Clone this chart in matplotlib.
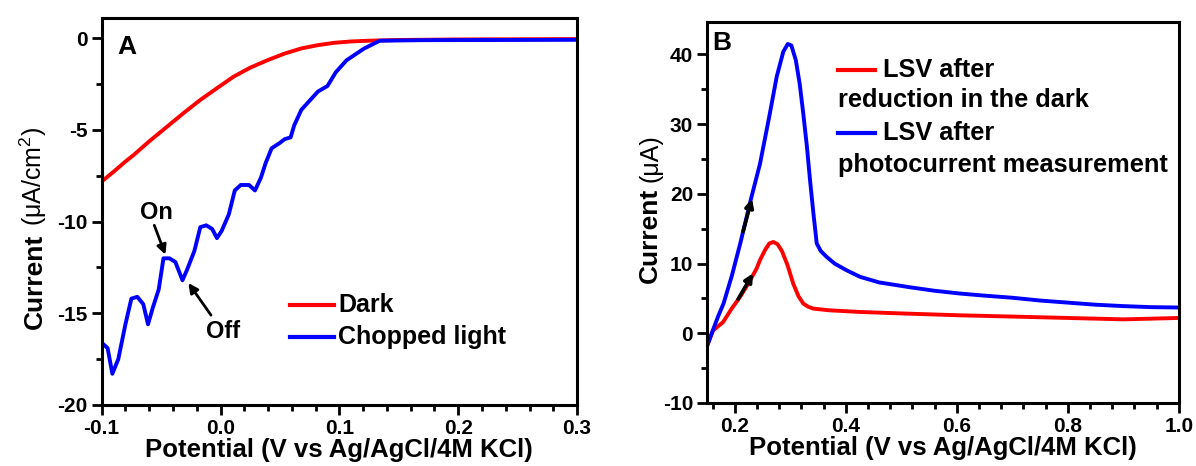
import matplotlib
matplotlib.use("Agg")
import matplotlib.pyplot as plt
from matplotlib.ticker import MultipleLocator

plt.rcParams['font.family'] = ['Liberation Sans', 'DejaVu Sans']
plt.rcParams['font.weight'] = 'bold'
plt.rcParams['mathtext.default'] = 'regular'
plt.rcParams['axes.unicode_minus'] = False

# panel A: LSV in the dark and under chopped light
dark_v = [-0.100, -0.090, -0.080, -0.073, -0.060, -0.045, -0.030, -0.017,
          -0.003, 0.011, 0.025, 0.040, 0.054, 0.068, 0.082, 0.096, 0.110,
          0.124, 0.150, 0.200, 0.300]
dark_i = [-7.81, -7.28, -6.72, -6.36, -5.62, -4.82, -4.02, -3.36,
          -2.72, -2.09, -1.60, -1.18, -0.83, -0.55, -0.37, -0.24, -0.17,
          -0.13, -0.09, -0.06, -0.04]

chop_v = [-0.100, -0.095, -0.091, -0.086, -0.080, -0.075, -0.070, -0.065,
          -0.061, -0.057, -0.052, -0.048, -0.043, -0.038, -0.032, -0.028,
          -0.022, -0.017, -0.012, -0.007, -0.003, 0.001, 0.007, 0.012,
          0.017, 0.024, 0.029, 0.034, 0.038, 0.043, 0.050, 0.054, 0.059,
          0.062, 0.068, 0.075, 0.082, 0.090, 0.097, 0.106, 0.114, 0.121,
          0.134, 0.170, 0.300]
chop_i = [-16.6, -16.9, -18.3, -17.5, -15.6, -14.2, -14.1, -14.5,
          -15.6, -14.7, -13.7, -12.0, -12.0, -12.2, -13.2, -12.6,
          -11.6, -10.3, -10.2, -10.4, -10.9, -10.5, -9.6, -8.3,
          -8.0, -8.0, -8.3, -7.6, -6.8, -6.0, -5.7, -5.5, -5.4,
          -4.75, -3.9, -3.4, -2.9, -2.6, -1.85, -1.2, -0.85, -0.55,
          -0.13, -0.1, -0.08]

# panel B: stripping LSV after reduction
red_v = [0.150, 0.161, 0.179, 0.195, 0.2095, 0.225, 0.2395, 0.2455, 0.255,
         0.2625, 0.2695, 0.277, 0.285, 0.295, 0.3055, 0.315, 0.3235, 0.3325,
         0.3415, 0.370, 0.4257, 0.500, 0.606, 0.700, 0.800, 0.900, 1.000]
red_i = [-1.8, 0.4, 1.6, 3.6, 5.2, 7.2, 9.3, 10.5, 12.0,
         12.9, 13.1, 12.8, 11.8, 9.8, 7.1, 5.3, 4.26, 3.8,
         3.54, 3.3, 3.06, 2.85, 2.58, 2.4, 2.2, 2.0, 2.2]

blue_v = [0.150, 0.160, 0.170, 0.180, 0.195, 0.210, 0.230, 0.2455, 0.262,
          0.2756, 0.2875, 0.2955, 0.302, 0.310, 0.317, 0.3235, 0.330, 0.3356,
          0.342, 0.3477, 0.355, 0.3657, 0.380, 0.400, 0.4257, 0.460, 0.5158,
          0.560, 0.606, 0.650, 0.700, 0.750, 0.800, 0.850, 0.900, 0.950, 1.000]
blue_i = [-1.9, 0.3, 2.4, 4.3, 8.3, 12.9, 19.5, 24.3, 31.0,
          36.8, 40.4, 41.5, 41.3, 39.2, 35.8, 31.5, 26.8, 22.0,
          17.0, 12.9, 11.8, 10.95, 10.0, 9.1, 8.1, 7.3, 6.6,
          6.1, 5.7, 5.4, 5.1, 4.7, 4.4, 4.1, 3.9, 3.75, 3.7]

xlabel = 'Potential (V vs Ag/AgCl/4M KCl)'

fig = plt.figure(figsize=(11.96, 4.66), dpi=100)
axA = fig.add_axes([0.085, 0.131, 0.3975, 0.830])
axB = fig.add_axes([0.5911, 0.1352, 0.3946, 0.8182])


def style(ax):
    for s in ax.spines.values():
        s.set_linewidth(2.2)
    ax.tick_params(which='both', direction='out', width=2, top=False, right=False,
                   labelsize=15, pad=3)
    ax.tick_params(which='major', length=7)
    ax.tick_params(which='minor', length=4)
    for lab in ax.get_xticklabels() + ax.get_yticklabels():
        lab.set_fontweight('bold')
    ax.set_xlabel(xlabel, fontsize=18.5, fontweight='bold', labelpad=0)


# ---- A ----
axA.plot(dark_v, dark_i, color='#ff0000', lw=2.8, solid_joinstyle='round')
axA.plot(chop_v, chop_i, color='#0000ff', lw=2.8, solid_joinstyle='round')
axA.set_xlim(-0.1, 0.3)
axA.set_ylim(-20, 1.1)
axA.xaxis.set_minor_locator(MultipleLocator(0.02))
axA.yaxis.set_minor_locator(MultipleLocator(2.5))
axA.set_xticks([-0.1, 0.0, 0.1, 0.2, 0.3])
axA.set_xticklabels(['-0.1', '0.0', '0.1', '0.2', '0.3'])
axA.set_yticks([0, -5, -10, -15, -20])
axA.set_yticklabels(['0', '-5', '-10', '-15', '-20'])
style(axA)
axA.text(0.054, 0.926, 'A', transform=axA.transAxes, fontsize=19,
         fontweight='bold', ha='center', va='center')

arrow_kw = dict(arrowstyle='-|>', color='black', lw=2, mutation_scale=14,
                shrinkA=0, shrinkB=0)
axA.annotate('', xy=(-0.0464, -11.8), xytext=(-0.0557, -10.2), arrowprops=arrow_kw)
axA.text(-0.054, -9.5, 'On', fontsize=17, fontweight='bold', ha='center', va='center')
axA.annotate('', xy=(-0.027, -13.35), xytext=(-0.008, -15.1), arrowprops=arrow_kw)
axA.text(0.002, -16.0, 'Off', fontsize=17, fontweight='bold', ha='center', va='center')

# legend A drawn by hand
axA.plot([0.397, 0.488], [0.2586, 0.2586], color='#ff0000', lw=3,
         transform=axA.transAxes)
axA.plot([0.397, 0.488], [0.176, 0.176], color='#0000ff', lw=3,
         transform=axA.transAxes)
axA.text(0.498, 0.2586, 'Dark', transform=axA.transAxes, fontsize=18,
         fontweight='bold', va='center')
axA.text(0.498, 0.176, 'Chopped light', transform=axA.transAxes, fontsize=18,
         fontweight='bold', va='center')

fig.text(42 / 1196, 1 - 281 / 466, 'Current', rotation=90, rotation_mode='anchor',
         ha='center', va='baseline', fontsize=19, fontweight='bold')
fig.text(42 / 1196, 1 - 176 / 466, '(\u03bcA/cm$^2$)', rotation=90,
         rotation_mode='anchor', ha='center', va='baseline', fontsize=18,
         fontweight='normal')

# ---- B ----
axB.plot(red_v, red_i, color='#ff0000', lw=2.8, solid_joinstyle='round')
axB.plot(blue_v, blue_i, color='#0000ff', lw=2.8, solid_joinstyle='round')
axB.set_xlim(0.15, 1.0)
axB.set_ylim(-10, 44.7)
axB.set_xticks([0.2, 0.4, 0.6, 0.8, 1.0])
axB.set_xticklabels(['0.2', '0.4', '0.6', '0.8', '1.0'])
axB.xaxis.set_minor_locator(MultipleLocator(0.04))
axB.set_yticks([-10, 0, 10, 20, 30, 40])
axB.yaxis.set_minor_locator(MultipleLocator(5))
style(axB)
axB.text(0.032, 0.944, 'B', transform=axB.transAxes, fontsize=19,
         fontweight='bold', ha='center', va='center')

arrow_kw_b = dict(arrowstyle='-|>', color='black', lw=2.6, mutation_scale=12,
                  shrinkA=0, shrinkB=0)
axB.annotate('', xy=(0.231, 19.3), xytext=(0.215, 14.6), arrowprops=arrow_kw_b)
axB.annotate('', xy=(0.233, 8.6), xytext=(0.206, 4.9), arrowprops=arrow_kw_b)

axB.plot([0.2775, 0.356], [0.873, 0.873], color='#ff0000', lw=3,
         transform=axB.transAxes)
axB.plot([0.2775, 0.356], [0.708, 0.708], color='#0000ff', lw=3,
         transform=axB.transAxes)
axB.text(0.373, 0.873, 'LSV after', transform=axB.transAxes, fontsize=18.3,
         fontweight='bold', va='center')
axB.text(0.2775, 0.795, 'reduction in the dark', transform=axB.transAxes,
         fontsize=18.3, fontweight='bold', va='center')
axB.text(0.373, 0.708, 'LSV after', transform=axB.transAxes, fontsize=18.3,
         fontweight='bold', va='center')
axB.text(0.2775, 0.624, 'photocurrent measurement', transform=axB.transAxes,
         fontsize=18.3, fontweight='bold', va='center')

fig.text(657 / 1196, 1 - 235 / 466, 'Current', rotation=90, rotation_mode='anchor',
         ha='center', va='baseline', fontsize=19, fontweight='bold')
fig.text(657 / 1196, 1 - 158 / 466, '(\u03bcA)', rotation=90,
         rotation_mode='anchor', ha='center', va='baseline', fontsize=18,
         fontweight='normal')

fig.savefig('out.png', dpi=100)
